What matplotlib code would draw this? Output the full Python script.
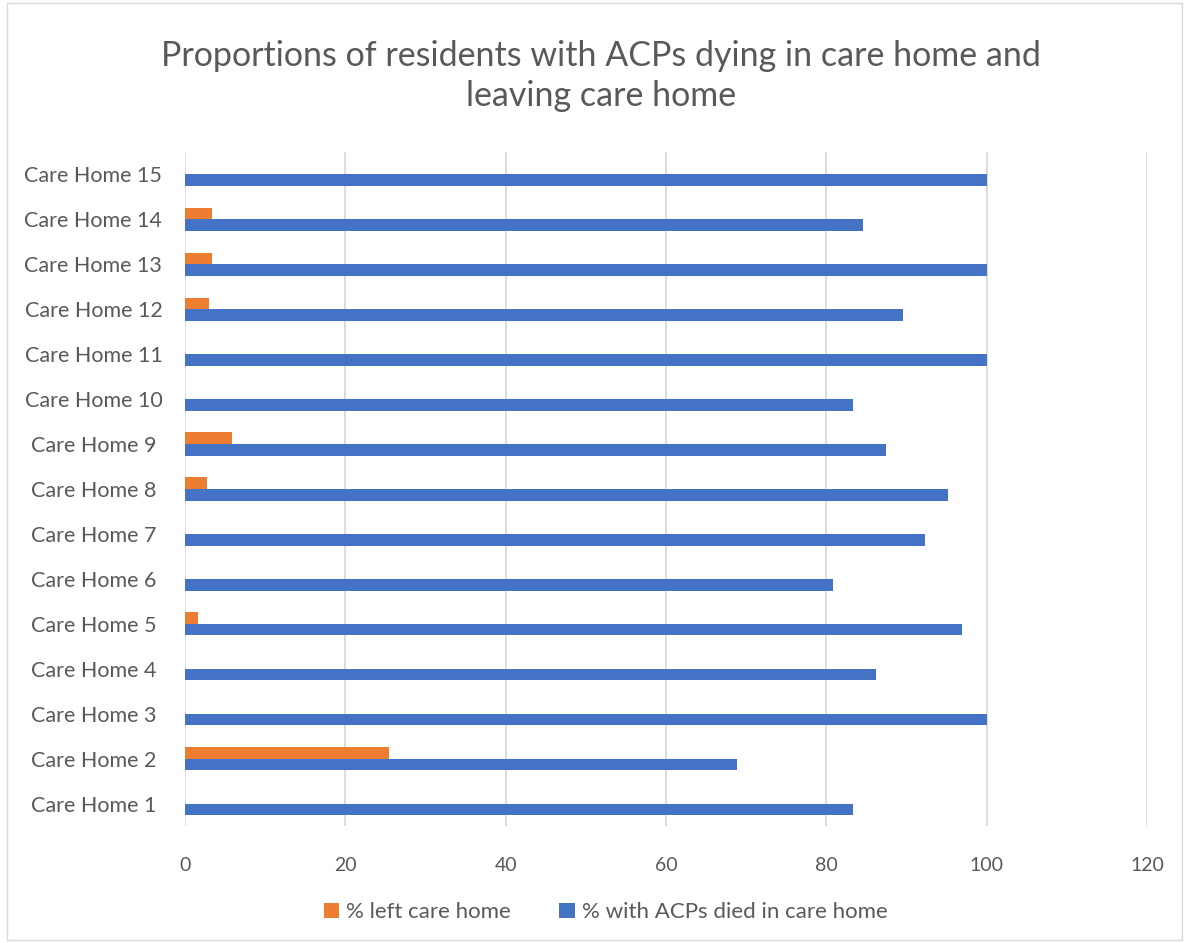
import numpy as np
import matplotlib.pyplot as plt
from matplotlib.patches import Rectangle

# данные
homes = [f"Care Home {i}" for i in range(1, 16)]
died_in_home = [83.3, 68.8, 100, 86.2, 96.9, 80.8, 92.3, 95.2, 87.5, 83.3,
                100, 89.5, 100, 84.6, 100]
left_home = [0, 25.5, 0, 0, 1.6, 0, 0, 2.7, 5.9, 0, 0, 3.0, 3.3, 3.4, 0]

title = "Proportions of residents with ACPs dying in care home and\nleaving care home"
blue = "#4472C4"
orange = "#ED7D31"
grey_text = "#595959"

plt.rcParams['font.family'] = ['Lato', 'DejaVu Sans']

fig = plt.figure(figsize=(11.87, 9.43), dpi=100)
ax = fig.add_axes([0.1559, 0.1241, 0.9663 - 0.1559, 0.8388 - 0.1241])

y = np.arange(1, len(homes) + 1)
h = 0.26
ax.barh(y + h / 2, left_home, height=h, color=orange, label="% left care home", zorder=3)
ax.barh(y - h / 2, died_in_home, height=h, color=blue,
        label="% with ACPs died in care home", zorder=3)

ax.set_xlim(0, 120)
ax.set_ylim(0.5, 15.5)
ax.set_xticks(range(0, 121, 20))
ax.set_yticks(y)
ax.set_yticklabels(homes)
ax.grid(axis='x', color='#d9d9d9', linewidth=1.3, zorder=0)
for s in ax.spines.values():
    s.set_visible(False)
ax.tick_params(axis='both', length=0, colors=grey_text)
ax.tick_params(axis='x', pad=22, labelsize=14)
ax.tick_params(axis='y', pad=66, labelsize=15.5)
for lab in ax.get_yticklabels():
    lab.set_horizontalalignment('center')

fig.text(0.506, 0.919, title, ha='center', va='center', fontsize=24.5,
         color=grey_text, linespacing=1.3)

leg = ax.legend(loc='center', bbox_to_anchor=(0.437, -0.128), ncol=2,
                frameon=False, fontsize=16, handlelength=0.7, handleheight=0.7,
                handletextpad=0.3, columnspacing=2.2)
for t in leg.get_texts():
    t.set_color(grey_text)

fig.patches.append(Rectangle((0.006, 0.003), 0.99, 0.994, transform=fig.transFigure,
                             fill=False, edgecolor='#d9d9d9', linewidth=1))

fig.savefig("out.png", dpi=100)
